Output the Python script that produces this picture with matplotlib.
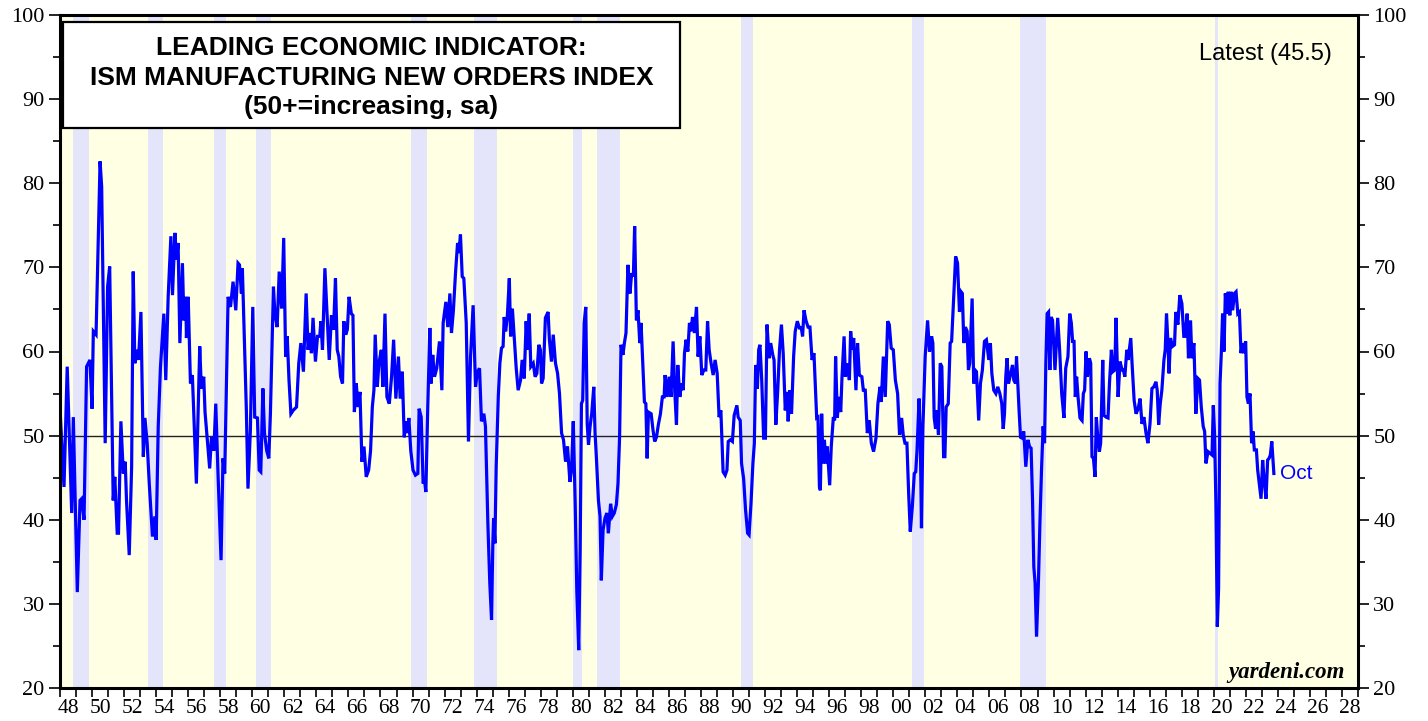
import matplotlib
matplotlib.use("Agg")
import matplotlib.pyplot as plt
from matplotlib.patches import Rectangle

# ISM manufacturing new orders index (decimal year, index)
dates = [
    1948.0, 1948.25, 1948.45, 1948.73, 1948.83, 1949.08, 1949.25, 1949.35, 1949.5, 1949.66, 1949.87,
    1950.0, 1950.08, 1950.25, 1950.5, 1950.6, 1950.82, 1950.97, 1951.1, 1951.32, 1951.42, 1951.57,
    1951.65, 1951.8, 1951.95, 1952.07, 1952.15, 1952.32, 1952.47, 1952.57, 1952.67, 1952.78, 1952.9,
    1953.05, 1953.2, 1953.3, 1953.44, 1953.57, 1953.77, 1953.92, 1954.0, 1954.13, 1954.27, 1954.48,
    1954.6, 1954.75, 1954.92, 1955.02, 1955.17, 1955.27, 1955.37, 1955.48, 1955.64, 1955.73, 1955.85,
    1955.89, 1956.0, 1956.14, 1956.26, 1956.51, 1956.72, 1956.82, 1956.97, 1957.05, 1957.18, 1957.34,
    1957.45, 1957.6, 1957.72, 1957.86, 1958.05, 1958.17, 1958.28, 1958.49, 1958.64, 1958.8, 1958.97,
    1959.11, 1959.2, 1959.32, 1959.38, 1959.63, 1959.73, 1959.88,
    1960.03, 1960.15, 1960.32, 1960.43, 1960.53, 1960.66, 1960.76, 1960.9, 1961.03, 1961.13, 1961.32,
    1961.41, 1961.55, 1961.68, 1961.83, 1961.96, 1962.08, 1962.18, 1962.29, 1962.41, 1962.55, 1962.76,
    1962.9, 1963.03, 1963.19, 1963.36, 1963.48, 1963.61, 1963.69, 1963.79, 1963.94, 1964.07, 1964.21,
    1964.28, 1964.38, 1964.53, 1964.67, 1964.8, 1964.94, 1965.07, 1965.19, 1965.3, 1965.4, 1965.51,
    1965.63, 1965.71, 1965.83, 1965.93, 1966.04, 1966.18, 1966.28, 1966.37, 1966.49, 1966.59, 1966.72,
    1966.84, 1966.97, 1967.11, 1967.26, 1967.38, 1967.49, 1967.59, 1967.67, 1967.8, 1967.9, 1968.05,
    1968.15, 1968.28, 1968.4, 1968.55, 1968.69, 1968.82, 1968.96, 1969.12, 1969.23, 1969.36, 1969.48,
    1969.58, 1969.68, 1969.77, 1969.89,
    1970.03, 1970.18, 1970.33, 1970.41, 1970.54, 1970.66, 1970.75, 1970.83, 1970.95, 1971.08, 1971.16,
    1971.26, 1971.37, 1971.51, 1971.68, 1971.83, 1971.91, 1972.08, 1972.2, 1972.33, 1972.43, 1972.55,
    1972.68, 1972.81, 1972.89, 1972.99, 1973.1, 1973.2, 1973.35, 1973.49, 1973.62, 1973.78, 1973.93,
    1974.05, 1974.18, 1974.3, 1974.45, 1974.55, 1974.7, 1974.82, 1974.93, 1975.01, 1975.06, 1975.14,
    1975.22, 1975.35, 1975.45, 1975.55, 1975.65, 1975.72, 1975.81, 1975.91, 1976.04, 1976.12, 1976.23,
    1976.34, 1976.47, 1976.59, 1976.74, 1976.84, 1976.97, 1977.09, 1977.17, 1977.28, 1977.38, 1977.53,
    1977.65, 1977.76, 1977.88, 1977.98, 1978.05, 1978.15, 1978.29, 1978.46, 1978.54, 1978.67, 1978.78,
    1978.92, 1979.05, 1979.17, 1979.3, 1979.42, 1979.55, 1979.67, 1979.82, 1979.92,
    1980.03, 1980.15, 1980.25, 1980.37, 1980.46, 1980.54, 1980.62, 1980.71, 1980.81, 1980.9, 1980.98,
    1981.08, 1981.18, 1981.31, 1981.39, 1981.47, 1981.6, 1981.7, 1981.78, 1981.89, 1982.01, 1982.13,
    1982.22, 1982.36, 1982.47, 1982.59, 1982.72, 1982.82, 1982.92, 1983.01, 1983.13, 1983.22, 1983.32,
    1983.44, 1983.57, 1983.67, 1983.78, 1983.86, 1983.97, 1984.07, 1984.18, 1984.26, 1984.35, 1984.47,
    1984.56, 1984.64, 1984.72, 1984.89, 1985.01, 1985.11, 1985.22, 1985.34, 1985.47, 1985.59, 1985.7,
    1985.76, 1985.89, 1986.01, 1986.13, 1986.26, 1986.36, 1986.47, 1986.55, 1986.68, 1986.78, 1986.89,
    1986.97, 1987.07, 1987.18, 1987.28, 1987.38, 1987.47, 1987.59, 1987.72, 1987.82, 1987.93, 1988.05,
    1988.18, 1988.3, 1988.41, 1988.51, 1988.63, 1988.76, 1988.88, 1989.01, 1989.13, 1989.24, 1989.38,
    1989.51, 1989.62, 1989.7, 1989.83, 1989.96,
    1990.07, 1990.24, 1990.32, 1990.45, 1990.53, 1990.66, 1990.78, 1990.91, 1991.0, 1991.12, 1991.24,
    1991.33, 1991.41, 1991.52, 1991.6, 1991.68, 1991.79, 1991.91, 1992.02, 1992.12, 1992.25, 1992.35,
    1992.48, 1992.56, 1992.67, 1992.79, 1992.9, 1993.02, 1993.13, 1993.26, 1993.36, 1993.44, 1993.55,
    1993.65, 1993.78, 1993.88, 1994.01, 1994.14, 1994.26, 1994.34, 1994.43, 1994.55, 1994.68, 1994.8,
    1994.93, 1995.05, 1995.14, 1995.22, 1995.3, 1995.39, 1995.45, 1995.53, 1995.62, 1995.7, 1995.8,
    1995.88, 1996.03, 1996.13, 1996.26, 1996.34, 1996.4, 1996.51, 1996.59, 1996.72, 1996.8, 1996.93,
    1997.01, 1997.13, 1997.26, 1997.34, 1997.42, 1997.53, 1997.67, 1997.77, 1997.88, 1998.04, 1998.13,
    1998.25, 1998.38, 1998.5, 1998.63, 1998.77, 1998.92, 1999.04, 1999.17, 1999.25, 1999.38, 1999.5,
    1999.65, 1999.75, 1999.87,
    2000.0, 2000.13, 2000.27, 2000.39, 2000.52, 2000.62, 2000.73, 2000.85, 2000.96, 2001.06, 2001.19,
    2001.31, 2001.4, 2001.48, 2001.61, 2001.69, 2001.76, 2001.85, 2001.99, 2002.14, 2002.26, 2002.39,
    2002.47, 2002.55, 2002.64, 2002.72, 2002.82, 2002.93, 2003.03, 2003.14, 2003.22, 2003.3, 2003.43,
    2003.55, 2003.64, 2003.76, 2003.89, 2004.01, 2004.13, 2004.23, 2004.31, 2004.4, 2004.5, 2004.61,
    2004.69, 2004.77, 2004.92, 2005.02, 2005.1, 2005.19, 2005.33, 2005.44, 2005.56, 2005.69, 2005.81,
    2005.96, 2006.06, 2006.15, 2006.27, 2006.4, 2006.52, 2006.65, 2006.77, 2006.86, 2006.94, 2007.02,
    2007.1, 2007.19, 2007.31, 2007.44, 2007.52, 2007.63, 2007.69, 2007.77, 2007.85, 2007.94, 2008.04,
    2008.14, 2008.27, 2008.4, 2008.5, 2008.6, 2008.69, 2008.77, 2008.85, 2008.94, 2009.06, 2009.15,
    2009.25, 2009.35, 2009.44, 2009.52, 2009.6, 2009.69, 2009.77, 2009.85, 2009.94,
    2010.09, 2010.26, 2010.38, 2010.51, 2010.65, 2010.76, 2010.9, 2011.01, 2011.11, 2011.19, 2011.28,
    2011.36, 2011.44, 2011.53, 2011.65, 2011.78, 2011.86, 2011.94, 2012.03, 2012.11, 2012.24, 2012.32,
    2012.4, 2012.49, 2012.59, 2012.67, 2012.76, 2012.86, 2012.94, 2013.07, 2013.15, 2013.28, 2013.4,
    2013.49, 2013.61, 2013.7, 2013.82, 2013.9, 2014.03, 2014.15, 2014.28, 2014.36, 2014.45, 2014.57,
    2014.65, 2014.82, 2014.9, 2015.03, 2015.15, 2015.28, 2015.4, 2015.52, 2015.64, 2015.77, 2015.89,
    2016.02, 2016.14, 2016.26, 2016.39, 2016.47, 2016.56, 2016.66, 2016.76, 2016.89, 2016.97, 2017.05,
    2017.13, 2017.21, 2017.3, 2017.42, 2017.55, 2017.63, 2017.76, 2017.88, 2018.01, 2018.13, 2018.21,
    2018.34, 2018.42, 2018.55, 2018.63, 2018.76, 2018.88, 2019.01, 2019.11, 2019.22, 2019.34, 2019.43,
    2019.51, 2019.64, 2019.76, 2019.89, 2019.97,
    2020.05, 2020.13, 2020.22, 2020.3, 2020.39, 2020.47, 2020.55, 2020.64, 2020.72, 2020.82, 2020.9,
    2021.0, 2021.08, 2021.18, 2021.29, 2021.39, 2021.5, 2021.6, 2021.7, 2021.78, 2021.87, 2021.99,
    2022.07, 2022.16, 2022.26, 2022.36, 2022.45, 2022.53, 2022.66, 2022.74, 2022.86, 2022.95, 2023.05,
    2023.16, 2023.26, 2023.36, 2023.45, 2023.53, 2023.62, 2023.75,
]
new_orders = [
    53.2, 43.9, 58.2, 40.8, 52.2, 31.4, 42.3, 42.5, 40.0, 58.2, 59.0,
    53.2, 62.4, 62.0, 82.6, 79.6, 49.1, 67.7, 70.1, 42.3, 45.1, 38.4,
    38.4, 51.7, 45.5, 46.9, 42.3, 35.8, 46.3, 69.5, 58.6, 60.2, 59.0,
    64.7, 47.5, 52.1, 49.1, 44.3, 38.0, 40.4, 37.6, 51.1, 58.2, 64.5,
    56.6, 66.5, 73.7, 66.7, 74.1, 70.9, 72.9, 61.0, 70.5, 63.7, 66.5,
    61.6, 66.5, 56.2, 57.2, 44.3, 60.6, 55.6, 57.0, 52.8, 49.8, 46.1,
    49.8, 48.2, 53.8, 45.5, 35.2, 47.3, 45.5, 66.5, 65.3, 68.3, 64.9,
    70.5, 70.3, 66.9, 69.9, 53.0, 43.7, 50.6,
    65.3, 52.2, 52.1, 45.9, 45.7, 55.6, 50.3, 48.2, 47.3, 52.6, 67.7,
    64.5, 62.9, 69.5, 65.1, 73.5, 59.4, 61.8, 56.6, 52.6, 53.0, 53.4,
    58.6, 61.0, 57.6, 66.9, 60.2, 62.2, 59.8, 64.0, 58.8, 61.8, 61.8,
    63.6, 60.2, 69.9, 64.1, 59.0, 64.3, 62.6, 68.7, 60.2, 59.4, 57.0,
    56.2, 63.6, 62.0, 62.6, 66.5, 64.5, 64.3, 52.8, 56.2, 53.4, 55.2,
    46.9, 48.7, 45.1, 45.9, 48.2, 53.4, 55.4, 62.0, 55.8, 58.6, 60.2,
    55.8, 64.5, 54.6, 53.8, 57.0, 61.4, 54.4, 59.4, 54.4, 57.6, 49.8,
    51.7, 50.3, 52.1, 48.2,
    45.9, 45.3, 45.5, 53.2, 52.2, 44.3, 44.7, 43.3, 53.4, 62.8, 56.2,
    59.6, 57.0, 58.0, 61.2, 55.4, 63.4, 65.9, 62.9, 66.9, 62.2, 64.9,
    69.3, 72.9, 71.7, 73.9, 68.9, 68.7, 63.4, 49.3, 59.4, 65.5, 55.8,
    57.6, 58.0, 51.7, 52.6, 51.1, 39.6, 32.5, 28.1, 37.2, 40.2, 37.2,
    46.3, 54.6, 58.6, 60.4, 60.6, 64.1, 62.4, 64.0, 68.7, 61.8, 65.1,
    61.8, 58.0, 55.4, 56.6, 59.0, 56.8, 63.6, 60.2, 64.5, 58.2, 58.6,
    57.0, 57.4, 60.8, 60.2, 56.2, 56.8, 64.0, 64.7, 61.4, 58.8, 62.0,
    58.6, 57.4, 55.0, 50.3, 49.5, 46.9, 48.7, 44.5, 45.9,
    51.7, 41.9, 31.6, 24.5, 36.4, 53.8, 54.2, 63.4, 65.3, 51.4, 48.9,
    51.1, 52.6, 55.8, 50.3, 47.5, 42.3, 40.4, 32.8, 38.8, 40.2, 40.8,
    38.4, 41.9, 40.4, 40.8, 41.8, 44.3, 49.8, 60.8, 59.6, 61.0, 62.2,
    70.3, 66.9, 69.3, 68.9, 74.9, 63.7, 64.9, 61.0, 63.4, 59.4, 54.0,
    53.8, 47.3, 52.8, 52.6, 50.6, 49.3, 49.8, 51.3, 52.6, 54.6, 54.6,
    57.2, 54.6, 57.0, 54.6, 61.2, 55.4, 51.3, 58.4, 54.6, 56.2, 55.4,
    59.8, 61.4, 60.0, 63.4, 62.4, 64.1, 62.2, 65.3, 59.4, 61.8, 57.2,
    57.8, 57.8, 63.6, 60.2, 58.6, 57.2, 59.0, 57.4, 52.2, 53.0, 45.7,
    45.3, 45.9, 49.3, 49.5, 49.3,
    52.4, 53.6, 52.2, 51.8, 46.7, 44.9, 41.2, 38.4, 38.2, 41.9, 46.7,
    49.1, 58.4, 55.6, 60.2, 60.8, 56.6, 49.7, 49.7, 63.2, 59.2, 61.0,
    59.6, 59.0, 51.3, 55.4, 60.2, 63.2, 59.8, 53.0, 55.2, 51.7, 55.4,
    52.6, 59.4, 62.4, 63.6, 62.8, 62.8, 61.8, 64.9, 63.7, 62.9, 62.9,
    59.0, 59.8, 55.8, 52.1, 52.2, 43.9, 43.5, 52.6, 46.7, 49.5, 46.7,
    48.7, 44.1, 48.7, 52.2, 51.8, 59.4, 52.1, 54.6, 52.8, 57.0, 61.8,
    57.0, 58.6, 56.6, 62.4, 60.2, 61.6, 55.4, 61.0, 57.2, 57.0, 55.4,
    55.4, 50.3, 51.8, 49.1, 48.1, 49.7, 53.8, 55.8, 54.0, 59.4, 54.6,
    63.6, 63.2, 60.4,
    60.2, 56.6, 55.0, 50.1, 52.1, 50.1, 49.1, 49.1, 43.1, 38.6, 41.6,
    45.5, 45.7, 48.2, 54.4, 49.1, 39.0, 51.1, 59.4, 63.7, 60.0, 61.8,
    61.0, 52.2, 50.8, 53.0, 50.1, 58.6, 58.2, 47.5, 47.5, 53.4, 53.8,
    61.0, 61.2, 66.1, 71.3, 70.5, 64.7, 67.1, 66.9, 61.0, 62.9, 62.4,
    57.8, 58.6, 66.3, 56.2, 57.8, 57.6, 51.8, 56.2, 57.8, 61.2, 61.4,
    59.0, 61.0, 57.4, 55.4, 55.0, 55.8, 55.0, 53.8, 50.8, 52.6, 57.0,
    59.2, 56.2, 57.2, 58.4, 56.6, 56.2, 59.4, 56.2, 53.0, 49.8, 49.7,
    50.5, 46.3, 49.5, 48.7, 48.5, 42.3, 34.4, 32.5, 26.1, 32.8, 39.6,
    45.9, 51.1, 49.1, 58.6, 64.5, 64.7, 57.8, 64.1, 63.7,
    57.8, 64.0, 60.2, 55.0, 52.1, 58.0, 59.4, 64.5, 63.4, 61.2, 61.2,
    54.6, 57.0, 54.6, 52.1, 51.8, 55.0, 55.4, 60.0, 57.0, 59.2, 58.6,
    47.5, 47.3, 45.1, 52.2, 49.8, 48.1, 49.1, 59.0, 52.4, 52.2, 52.1,
    56.2, 60.2, 57.6, 57.8, 64.0, 54.6, 58.8, 57.8, 57.8, 57.0, 60.2,
    59.0, 61.6, 58.6, 54.2, 52.6, 53.2, 54.4, 51.4, 52.2, 50.3, 49.1,
    51.4, 55.6, 55.8, 56.4, 55.4, 51.3, 53.8, 55.4, 59.0, 60.2, 64.5,
    61.4, 57.4, 61.6, 60.6, 60.8, 64.7, 63.2, 66.7, 65.7, 61.8, 61.8,
    64.5, 59.2, 63.7, 59.2, 61.0, 52.6, 56.8, 56.6, 53.4, 51.1, 50.5,
    46.7, 48.1, 47.9, 47.7, 53.6,
    50.1, 42.2, 27.3, 31.8, 56.2, 59.8, 64.5, 60.0, 66.9, 64.5, 67.1,
    64.3, 67.1, 64.9, 66.9, 67.1, 64.5, 64.7, 59.8, 61.0, 59.8, 61.2,
    54.6, 53.8, 55.0, 49.1, 50.5, 48.3, 48.3, 45.9, 43.9, 42.5, 47.1,
    44.3, 42.5, 47.1, 47.3, 47.7, 49.3, 45.5,
]

# NBER recessions (start, end as decimal years)
rec_start = [1948.83, 1953.5, 1957.58, 1960.25, 1969.92, 1973.83, 1980.0, 1981.5, 1990.5, 2001.17, 2007.92, 2020.08]
rec_end = [1949.83, 1954.42, 1958.33, 1961.17, 1970.92, 1975.25, 1980.58, 1982.92, 1991.25, 2001.92, 2009.5, 2020.25]

year_ticks = list(range(1948, 2030))
label_years = list(range(1948, 2029, 2))
label_text = [f"{y % 100:02d}" for y in label_years]
y_major = list(range(20, 101, 10))

title_lines = "LEADING ECONOMIC INDICATOR:\nISM MANUFACTURING NEW ORDERS INDEX\n(50+=increasing, sa)"

fig = plt.figure(figsize=(14.28, 7.21), dpi=100)
ax = fig.add_axes([60 / 1428, 1 - 688 / 721, 1298 / 1428, 673 / 721])
ax.set_facecolor("#FFFFE3")

for s, e in zip(rec_start, rec_end):
    ax.axvspan(s, e, color="#E4E4FA", lw=0, zorder=0.5)

ax.axhline(50, color="#222222", lw=1.0, zorder=1)
ax.plot(dates, new_orders, color="#0000FF", lw=2.3, zorder=3, solid_joinstyle="miter")

ax.set_xlim(1948, 2029)
ax.set_ylim(20, 100)

for sp in ax.spines.values():
    sp.set_linewidth(2.2)
    sp.set_zorder(5)

serif = ["Liberation Serif", "DejaVu Serif"]

ax.set_yticks(y_major)
ax.set_yticks(range(25, 100, 10), minor=True)
ax.tick_params(axis="y", which="both", left=True, right=True, labelleft=True, labelright=True,
               direction="out", width=1.2)
ax.tick_params(axis="y", which="major", length=8, pad=3, labelsize=16)
ax.tick_params(axis="y", which="minor", length=5)

ax.set_xticks(year_ticks)
ax.set_xticklabels([])
ax.set_xticks([y + 0.5 for y in label_years], labels=label_text, minor=True)
ax.tick_params(axis="x", which="major", bottom=True, top=False, direction="out", length=6.5, width=1.2)
ax.tick_params(axis="x", which="minor", bottom=True, length=0, pad=8, labelsize=15.5)

for lab in ax.get_yticklabels() + ax.get_xticklabels(minor=True):
    lab.set_family(serif)

# title box
ax.add_patch(Rectangle((0.0023, 0.832), 0.4754, 0.1576, transform=ax.transAxes,
                       facecolor="white", edgecolor="black", lw=1.6, zorder=6))
ax.text(0.2400, 0.907, title_lines, transform=ax.transAxes, ha="center", va="center",
        fontsize=19, fontweight="bold", family=["Liberation Sans", "DejaVu Sans"],
        linespacing=1.3, zorder=7)

ax.text(0.980, 0.942, "Latest (45.5)", transform=ax.transAxes, ha="right", va="center",
        fontsize=17, family=["Liberation Sans", "DejaVu Sans"], zorder=7)

ax.text(dates[-1] + 0.4, new_orders[-1], "Oct", ha="left", va="center", color="#0000FF",
        fontsize=15, family=["Liberation Sans", "DejaVu Sans"], zorder=7)

ax.text(0.990, 0.015, "yardeni.com", transform=ax.transAxes, ha="right", va="baseline",
        fontsize=16.5, fontweight="bold", fontstyle="italic", family=serif, zorder=7)

fig.savefig("out.png", dpi=100, facecolor="white")
